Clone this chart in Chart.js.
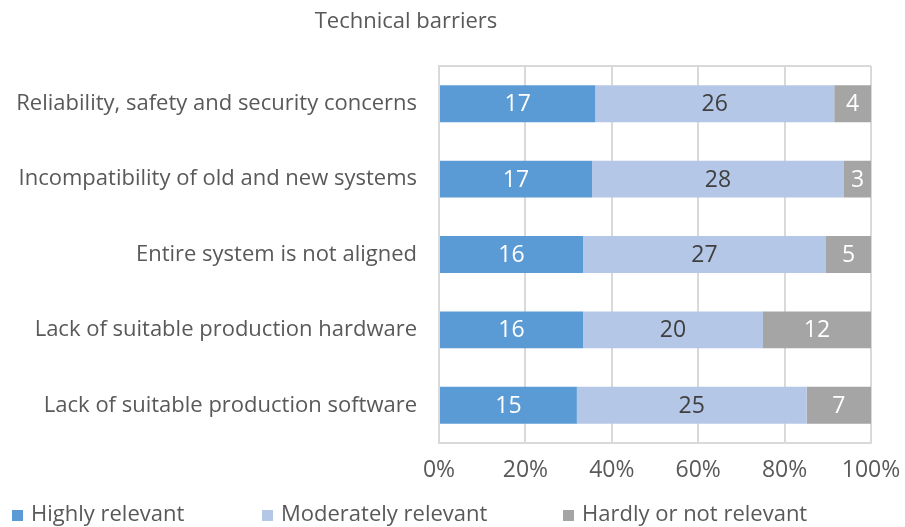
<!DOCTYPE html>
<html>
<head>
<meta charset="utf-8">
<script src="https://cdn.jsdelivr.net/npm/chart.js@4.4.1/dist/chart.umd.min.js"></script>
<style>
  html, body { margin: 0; padding: 0; background: #ffffff; }
  #wrap { width: 905px; height: 527px; }
</style>
</head>
<body>
<div id="wrap"><canvas id="chart" width="905" height="527"></canvas></div>
<script>
// Survey responses: number of companies rating each technical barrier
const categories = [
  'Reliability, safety and security concerns',
  'Incompatibility of old and new systems',
  'Entire system is not aligned',
  'Lack of suitable production hardware',
  'Lack of suitable production software'
];
const highlyRelevant     = [17, 17, 16, 16, 15];
const moderatelyRelevant = [26, 28, 27, 20, 25];
const hardlyRelevant     = [4, 3, 5, 12, 7];
const seriesNames = ['Highly relevant', 'Moderately relevant', 'Hardly or not relevant'];
const xTicks = [0, 20, 40, 60, 80, 100];
const chartTitle = 'Technical barriers';

const FONT = "'Open Sans', 'Noto Sans', sans-serif";
const TEXT = '#595959';
const GRID = '#d9d9d9';
const colors = ['#5b9bd5', '#b4c7e7', '#a5a5a5'];
const labelColors = ['#ffffff', '#404040', '#ffffff'];

const counts = [highlyRelevant, moderatelyRelevant, hardlyRelevant];
const totals = categories.map((_, i) => counts.reduce((s, arr) => s + arr[i], 0));
const toShare = arr => arr.map((v, i) => v / totals[i] * 100);

const datasets = counts.map((arr, k) => ({
  label: seriesNames[k],
  data: toShare(arr),
  counts: arr,
  backgroundColor: colors[k],
  borderWidth: 0,
  barPercentage: 0.49,
  categoryPercentage: 1
}));

// Value labels centred in each segment
const segmentLabels = {
  id: 'segmentLabels',
  afterDatasetsDraw(chart) {
    const ctx = chart.ctx;
    ctx.save();
    ctx.font = `23px ${FONT}`;
    ctx.textAlign = 'center';
    ctx.textBaseline = 'middle';
    chart.data.datasets.forEach((ds, k) => {
      chart.getDatasetMeta(k).data.forEach((bar, i) => {
        const p = bar.getProps(['x', 'y', 'base'], true);
        ctx.fillStyle = labelColors[k];
        ctx.fillText(String(ds.counts[i]), (p.x + p.base) / 2, p.y + 1);
      });
    });
    ctx.restore();
  }
};

// Frame line along the top of the plot area, title and legend row
const frameTitleLegend = {
  id: 'frameTitleLegend',
  beforeDatasetsDraw(chart) {
    const a = chart.chartArea, ctx = chart.ctx;
    ctx.save();
    ctx.strokeStyle = GRID;
    ctx.lineWidth = 2;
    ctx.beginPath();
    ctx.moveTo(a.left, a.top);
    ctx.lineTo(a.right, a.top);
    ctx.stroke();
    ctx.restore();
  },
  afterDraw(chart) {
    const ctx = chart.ctx;
    ctx.save();
    ctx.fillStyle = TEXT;
    ctx.font = `22px ${FONT}`;
    ctx.textAlign = 'center';
    ctx.textBaseline = 'middle';
    ctx.fillText(chartTitle, 406, 22);

    ctx.font = `22px ${FONT}`;
    ctx.textAlign = 'left';
    const starts = [12, 262, 563];
    chart.data.datasets.forEach((ds, k) => {
      const x = starts[k];
      ctx.fillStyle = ds.backgroundColor;
      ctx.fillRect(x, 510, 11, 11);
      ctx.fillStyle = TEXT;
      ctx.fillText(ds.label, x + 19, 515);
    });
    ctx.restore();
  }
};

new Chart(document.getElementById('chart'), {
  type: 'bar',
  data: { labels: categories, datasets },
  options: {
    indexAxis: 'y',
    responsive: false,
    animation: false,
    layout: { padding: { top: 66, right: 34, bottom: 0, left: 0 } },
    plugins: {
      legend: { display: false },
      title: { display: false },
      tooltip: { enabled: false }
    },
    scales: {
      x: {
        stacked: true,
        min: 0,
        max: 100,
        afterBuildTicks: s => { s.ticks = xTicks.map(v => ({ value: v })); },
        afterFit: s => { s.height = 84; s.paddingLeft = 0; s.paddingRight = 0; },
        ticks: {
          callback: v => v + '%',
          color: TEXT,
          font: { family: FONT, size: 23 },
          padding: 14
        },
        grid: { color: GRID, lineWidth: 2, drawTicks: false },
        border: { color: GRID, width: 2 }
      },
      y: {
        stacked: true,
        afterFit: s => { s.width = 439; },
        ticks: {
          color: TEXT,
          font: { family: FONT, size: 22 },
          padding: 22
        },
        grid: { display: false, drawTicks: false },
        border: { color: GRID, width: 2 }
      }
    }
  },
  plugins: [segmentLabels, frameTitleLegend]
});
</script>
</body>
</html>
